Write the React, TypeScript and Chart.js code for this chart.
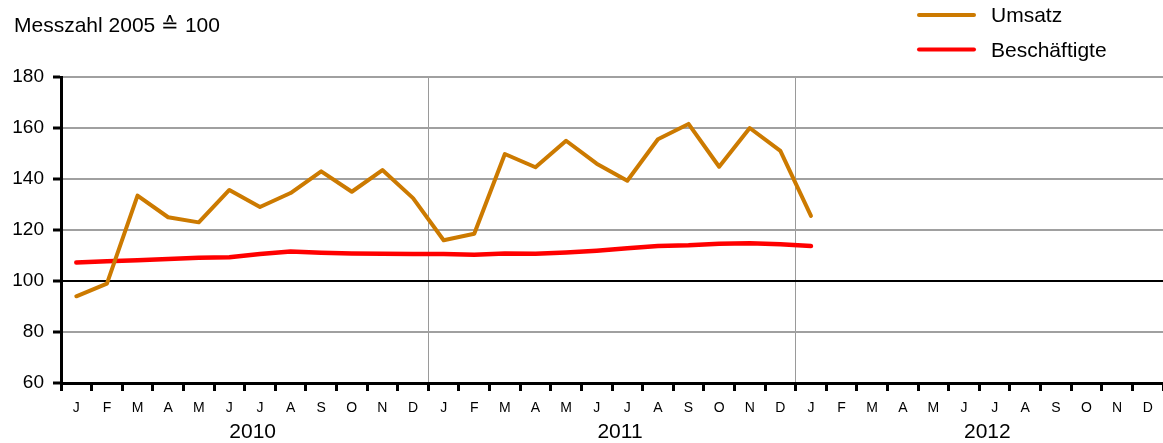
import React, { useEffect, useRef } from "react";
import { Chart, registerables } from "chart.js";

Chart.register(...registerables);

const months = ["J", "F", "M", "A", "M", "J", "J", "A", "S", "O", "N", "D"];
const years = ["2010", "2011", "2012"];
const umsatz = [
  94, 99, 133.5, 125, 123, 135.7, 129, 134.5, 143, 135, 143.5, 132.5,
  116, 118.5, 149.8, 144.6, 155, 146, 139.3, 155.6, 161.6, 144.8, 160, 151,
  125.5,
];
const beschaeftigte = [
  107.3, 107.7, 108.1, 108.6, 109.1, 109.3, 110.6, 111.6, 111.1, 110.8, 110.7, 110.6,
  110.6, 110.3, 110.8, 110.7, 111.2, 111.9, 112.8, 113.7, 114.0, 114.6, 114.8, 114.4,
  113.7,
];
const yTicks = { min: 60, max: 180, step: 20 };
const titleText = "Messzahl 2005 \u2259 100";
const seriesNames = ["Umsatz", "Besch\u00e4ftigte"];
const seriesColors = ["#CC7A00", "#FF0000"];

const FONT = '"Liberation Sans", Arial, sans-serif';

export default function App() {
  const ref = useRef<HTMLCanvasElement | null>(null);

  useEffect(() => {
    if (!ref.current) return;
    const labels: string[] = [];
    years.forEach(() => months.forEach((m) => labels.push(m)));

    const overlay = {
      id: "overlay",
      afterDraw(chart: any) {
        const ctx = chart.ctx;
        ctx.save();
        ctx.fillStyle = "#000";
        ctx.textBaseline = "middle";
        ctx.textAlign = "left";
        ctx.font = `21px ${FONT}`;
        ctx.fillText(titleText, 14, 26);
        const ly = [15, 49.5];
        seriesNames.forEach((n, i) => {
          ctx.strokeStyle = seriesColors[i];
          ctx.lineWidth = 4;
          ctx.lineCap = "round";
          ctx.beginPath();
          ctx.moveTo(919, ly[i]);
          ctx.lineTo(974, ly[i]);
          ctx.stroke();
          ctx.fillStyle = "#000";
          ctx.fillText(n, 991, ly[i] + 1.5);
        });
        const xs = chart.scales.x;
        ctx.textAlign = "center";
        ctx.font = `21px ${FONT}`;
        years.forEach((y, i) => {
          const p =
            (xs.getPixelForTick(i * 12 + 5) + xs.getPixelForTick(i * 12 + 6)) / 2 + 8;
          ctx.fillText(y, p, 432);
        });
        ctx.restore();
      },
    };

    const chart = new Chart(ref.current, {
      type: "line",
      data: {
        labels,
        datasets: [
          {
            label: seriesNames[0],
            data: umsatz,
            borderColor: seriesColors[0],
            borderWidth: 4,
            pointRadius: 0,
            tension: 0,
            borderJoinStyle: "round",
            borderCapStyle: "round",
          },
          {
            label: seriesNames[1],
            data: beschaeftigte,
            borderColor: seriesColors[1],
            borderWidth: 4.5,
            pointRadius: 0,
            tension: 0,
            borderJoinStyle: "round",
            borderCapStyle: "round",
          },
        ],
      },
      options: {
        animation: false,
        responsive: false,
        maintainAspectRatio: false,
        layout: { padding: { top: 77, left: 0, right: 0, bottom: 0 } },
        plugins: {
          legend: { display: false },
          tooltip: { enabled: false },
          title: { display: false },
        },
        scales: {
          x: {
            type: "category",
            offset: true,
            grid: {
              offset: true,
              color: (c: any) =>
                c.index === 12 || c.index === 24 ? "#9a9a9a" : "rgba(0,0,0,0)",
              lineWidth: 1,
              tickColor: "#000",
              tickLength: 8,
              tickWidth: 3,
            },
            border: { color: "#000", width: 3 },
            ticks: {
              color: "#000",
              font: { family: FONT, size: 14 },
              padding: 9,
              maxRotation: 0,
              autoSkip: false,
            },
            afterFit: (s: any) => {
              s.height = 60;
            },
          },
          y: {
            min: yTicks.min,
            max: yTicks.max,
            grid: {
              color: (c: any) => (c.tick && c.tick.value === 100 ? "#000" : "#a0a0a0"),
              lineWidth: 2,
              tickColor: "#000",
              tickLength: 8,
              tickWidth: 3,
            },
            border: { color: "#000", width: 3 },
            ticks: {
              stepSize: yTicks.step,
              color: "#000",
              font: { family: FONT, size: 19 },
              padding: 9,
            },
            afterFit: (s: any) => {
              s.width = 61;
            },
          },
        },
      },
      plugins: [overlay],
    });
    return () => chart.destroy();
  }, []);

  return (
    <div style={{ position: "fixed", left: 0, top: 0, width: 1163, height: 443, background: "#fff" }}>
      <canvas ref={ref} width={1163} height={443} style={{ width: 1163, height: 443 }} />
    </div>
  );
}
